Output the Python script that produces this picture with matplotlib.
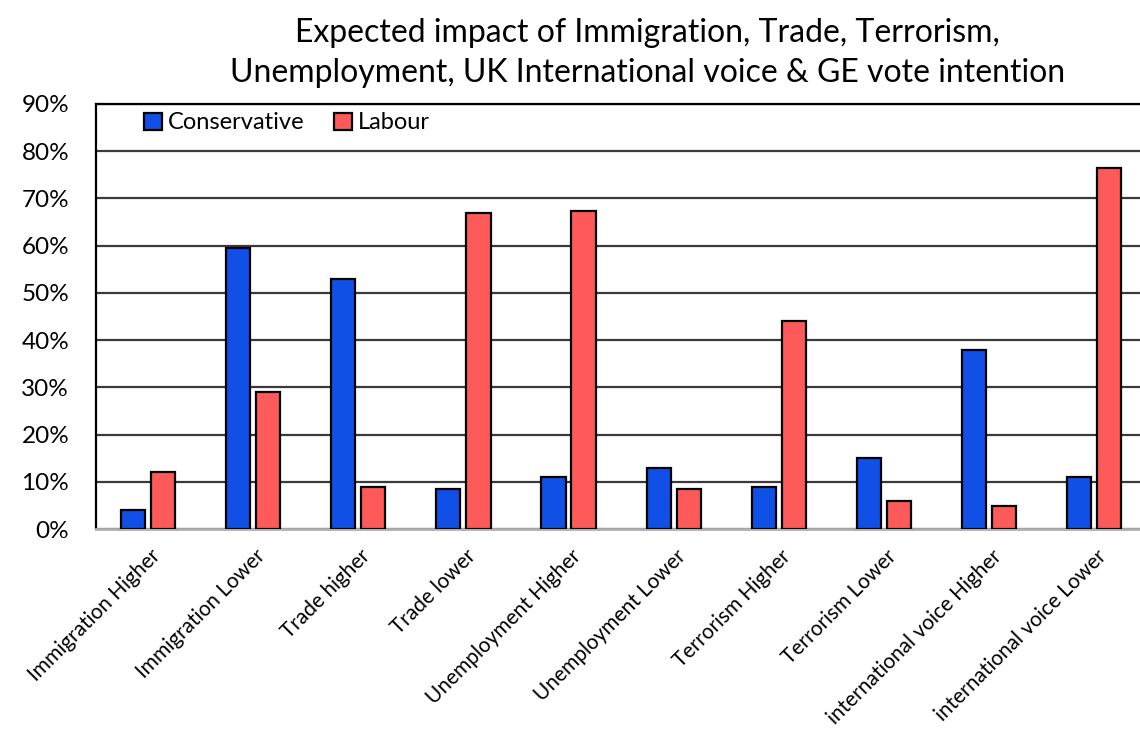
import numpy as np
import matplotlib.pyplot as plt
import matplotlib.transforms as mtransforms
from matplotlib.ticker import PercentFormatter

plt.rcParams['font.family'] = ['Lato', 'DejaVu Sans']

categories = ['Immigration Higher', 'Immigration Lower', 'Trade higher', 'Trade lower',
              'Unemployment Higher', 'Unemployment Lower', 'Terrorism Higher',
              'Terrorism Lower', 'international voice Higher', 'international voice Lower']
conservative = [4, 59.5, 53, 8.5, 11, 13, 9, 15, 38, 11]
labour = [12, 29, 9, 67, 67.3, 8.5, 44, 6, 5, 76.5]

x = np.arange(len(categories))
w = 0.23
off = 0.143

fig = plt.figure(figsize=(11.4, 7.37), dpi=100)
ax = fig.add_axes([0.0838, 0.282, 0.922, 0.577])

ax.bar(x - off, conservative, w, color='#1150e6', edgecolor='black', linewidth=1.6,
       label='Conservative', zorder=3)
ax.bar(x + off, labour, w, color='#ff5a5a', edgecolor='black', linewidth=1.6,
       label='Labour', zorder=3)

ax.set_ylim(0, 90)
ax.set_yticks(np.arange(0, 91, 10))
ax.yaxis.set_major_formatter(PercentFormatter(decimals=0))
ax.set_xlim(-0.5, len(categories) - 0.5)
ax.grid(axis='y', color='#3a3a3a', linewidth=1.6, zorder=0)
ax.set_axisbelow(True)

for s in ['left', 'top']:
    ax.spines[s].set_color('black')
    ax.spines[s].set_linewidth(1.6)
ax.spines['right'].set_visible(False)
ax.spines['bottom'].set_color('#b0b0b0')
ax.spines['bottom'].set_linewidth(2)

ax.tick_params(axis='y', length=0, labelsize=17.5, pad=19)
ax.tick_params(axis='x', length=0, labelsize=15, pad=12)
ax.set_xticks(x)
ax.set_xticklabels(categories, rotation=45, ha='right', rotation_mode='anchor')
shift = mtransforms.ScaledTranslation(0.02, 0, fig.dpi_scale_trans)
for lbl in ax.get_xticklabels():
    lbl.set_transform(lbl.get_transform() + shift)

ax.set_title('Expected impact of Immigration, Trade, Terrorism,\n'
             'Unemployment, UK International voice & GE vote intention',
             fontsize=23, pad=16, linespacing=1.4, x=0.525)

ax.legend(loc='upper left', bbox_to_anchor=(0.026, 1.03), ncol=2, frameon=False,
          fontsize=17, handlelength=0.75, handleheight=0.75, handletextpad=0.25,
          columnspacing=1.25)

fig.savefig('out.png', dpi=100)
